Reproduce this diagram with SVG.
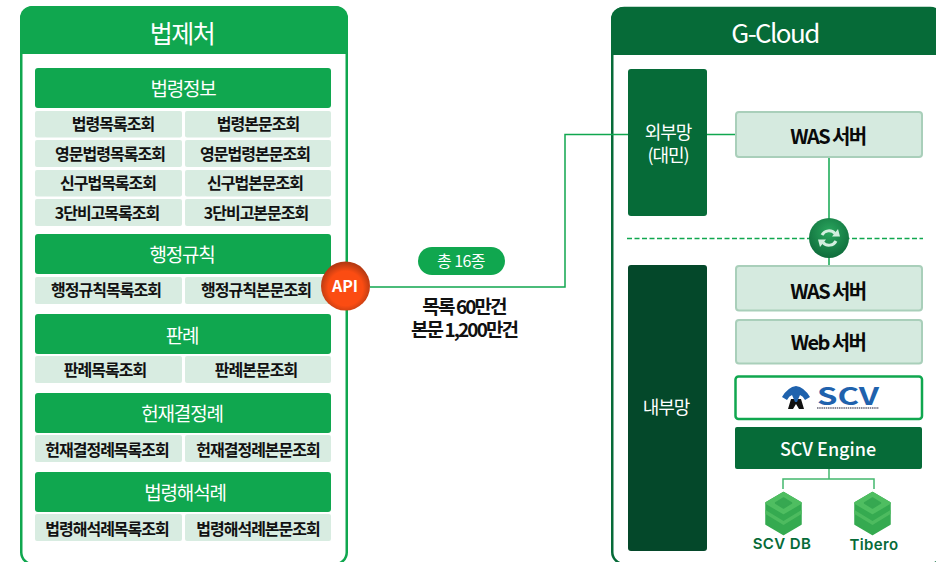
<svg xmlns="http://www.w3.org/2000/svg" width="936" height="562" viewBox="0 0 936 562">
<defs>
<style>
text{font-family:"Noto Sans CJK KR","Noto Sans",sans-serif;text-anchor:middle;dominant-baseline:central}
.cat{fill:#10a74f}
.cat-t{fill:#fff;font-size:19px;font-weight:400;letter-spacing:-1.2px}
.item{fill:#d8ece1}
.item-t{fill:#111;font-size:16px;font-weight:700;letter-spacing:-1px}
.srv{fill:#d5eadf;stroke:#a9cfba;stroke-width:2}
.srv-t{fill:#0a0a0a;font-size:20px;font-weight:700;letter-spacing:-1.6px}
.zone-t{fill:#fff;font-size:18px;letter-spacing:-1.1px}
.conn{fill:none;stroke:#10a74f;stroke-width:1.5}
.db-l{fill:#066b38;font-family:Inter,"Noto Sans",sans-serif;font-size:15px;font-weight:600;letter-spacing:.4px}
.vol{font-size:19px;font-weight:700;fill:#111;letter-spacing:-1.9px}
</style>
<radialGradient id="api" cx="50%" cy="55%" r="52%"><stop offset="0.68" stop-color="#fb4c12"/><stop offset="1" stop-color="#b73a12"/></radialGradient>
<radialGradient id="sync" cx="50%" cy="35%" r="65%"><stop offset="0" stop-color="#2aa75e"/><stop offset="1" stop-color="#0f6c3b"/></radialGradient>
<g id="db">
<path d="M-17 12 L0 2 L17 12 V33 L0 43 L-17 33Z" fill="#35aa50" stroke="#35aa50" stroke-width="2.500" stroke-linejoin="round"/>
<path d="M-18 19 L0 30 L18 19 V23 L0 34 L-18 23Z" fill="#4dbb5f"/>
<path d="M-17 12 L0 2 L17 12 L0 22Z" fill="#4fbe61" stroke="#4fbe61" stroke-width="2.500" stroke-linejoin="round"/>
<path d="M-8 12 L0 7 L8 12 L0 17Z" fill="#36a851" stroke="#36a851" stroke-width="1.500" stroke-linejoin="round"/>
</g>
</defs>
<rect width="936" height="562" fill="#fff"/>
<g id="panel-law">
<rect x="21.250" y="7.250" width="325.500" height="557" rx="12" fill="none" stroke="#10a74f" stroke-width="2.500"/>
<path d="M20 54V18A12 12 0 0 1 32 6H336A12 12 0 0 1 348 18V54Z" fill="#10a74f"/>
<text x="182" y="32" fill="#fff" font-size="25" letter-spacing="-1.500">법제처</text>
</g>
<g id="panel-gcloud">
<rect x="612.250" y="8" width="330" height="556" rx="12" fill="none" stroke="#066b38" stroke-width="2.500"/>
<path d="M611 55V19A12 12 0 0 1 623 7H928A12 12 0 0 1 940 19V55Z" fill="#066b38"/>
<text x="775" y="31" fill="#fff" font-size="26" letter-spacing="-1.600">G-Cloud</text>
</g>
<g id="connectors">
<path class="conn" d="M370 287H565V134.500H735"/>
<path class="conn" d="M829 158V265"/>
<path d="M627 238.500H923" fill="none" stroke="#10a74f" stroke-width="1.500" stroke-dasharray="5 2.500"/>
<path class="conn" d="M829 469V479M783 489V479H874V489" style="stroke:#43b86e"/>
</g>
<g id="cat-1"><rect class="cat" x="35" y="68" width="296" height="40" rx="3"/><text class="cat-t" x="183" y="87.500">법령정보</text></g>
<g id="n-1"><rect class="item" x="35" y="111" width="147" height="26.500" rx="2"/><text class="item-t" x="113" y="123">법령목록조회</text></g>
<g id="n-2"><rect class="item" x="185" y="111" width="146" height="26.500" rx="2"/><text class="item-t" x="258" y="123">법령본문조회</text></g>
<g id="n-3"><rect class="item" x="35" y="140" width="147" height="27" rx="2"/><text class="item-t" x="110" y="152.500">영문법령목록조회</text></g>
<g id="n-4"><rect class="item" x="185" y="140" width="146" height="27" rx="2"/><text class="item-t" x="255" y="152.500">영문법령본문조회</text></g>
<g id="n-5"><rect class="item" x="35" y="170" width="147" height="26.500" rx="2"/><text class="item-t" x="108" y="182">신구법목록조회</text></g>
<g id="n-6"><rect class="item" x="185" y="170" width="146" height="26.500" rx="2"/><text class="item-t" x="255" y="182">신구법본문조회</text></g>
<g id="n-7"><rect class="item" x="35" y="199" width="147" height="27" rx="2"/><text class="item-t" x="107" y="211.500">3단비고목록조회</text></g>
<g id="n-8"><rect class="item" x="185" y="199" width="146" height="27" rx="2"/><text class="item-t" x="256" y="211.500">3단비고본문조회</text></g>
<g id="cat-2"><rect class="cat" x="35" y="234" width="296" height="40" rx="3"/><text class="cat-t" x="182" y="253">행정규칙</text></g>
<g id="n-9"><rect class="item" x="35" y="277" width="147" height="27" rx="2"/><text class="item-t" x="106" y="289">행정규칙목록조회</text></g>
<g id="n-10"><rect class="item" x="185" y="277" width="146" height="27" rx="2"/><text class="item-t" x="256" y="289">행정규칙본문조회</text></g>
<g id="cat-3"><rect class="cat" x="35" y="314" width="296" height="40" rx="3"/><text class="cat-t" x="182" y="334">판례</text></g>
<g id="n-11"><rect class="item" x="35" y="356" width="147" height="27" rx="2"/><text class="item-t" x="105" y="369">판례목록조회</text></g>
<g id="n-12"><rect class="item" x="185" y="356" width="146" height="27" rx="2"/><text class="item-t" x="256" y="369">판례본문조회</text></g>
<g id="cat-4"><rect class="cat" x="35" y="393" width="296" height="40" rx="3"/><text class="cat-t" x="182" y="412.500">헌재결정례</text></g>
<g id="n-13"><rect class="item" x="35" y="435" width="147" height="27" rx="2"/><text class="item-t" x="107" y="449">헌재결정례목록조회</text></g>
<g id="n-14"><rect class="item" x="185" y="435" width="146" height="27" rx="2"/><text class="item-t" x="258" y="449">헌재결정례본문조회</text></g>
<g id="cat-5"><rect class="cat" x="35" y="472" width="296" height="40" rx="3"/><text class="cat-t" x="185" y="491">법령해석례</text></g>
<g id="n-15"><rect class="item" x="35" y="514" width="147" height="27" rx="2"/><text class="item-t" x="107" y="528">법령해석례목록조회</text></g>
<g id="n-16"><rect class="item" x="185" y="514" width="146" height="27" rx="2"/><text class="item-t" x="258" y="528">법령해석례본문조회</text></g>
<g id="api-badge"><circle cx="345.500" cy="286" r="24.500" fill="url(#api)"/><text x="345" y="285" fill="#fff" font-size="16" font-weight="700" font-family="Inter,sans-serif">API</text></g>
<g id="pill"><rect x="418" y="247" width="87" height="28" rx="14" fill="#10a74f"/><text x="461" y="260" fill="#fff" font-size="16" letter-spacing="-.6">총 16종</text></g>
<g id="volume"><text class="vol" x="464" y="305">목록 60만건</text><text class="vol" x="464" y="328">본문 1,200만건</text></g>
<g id="zone-ext"><rect x="628" y="69" width="79" height="147" rx="3" fill="#066b38"/><text class="zone-t" x="668" y="131">외부망</text><text class="zone-t" x="668" y="154">(대민)</text></g>
<g id="zone-int"><rect x="628" y="265" width="79" height="286" rx="3" fill="#04482a"/><text class="zone-t" x="666" y="406">내부망</text></g>
<g id="was-ext"><rect class="srv" x="736" y="112" width="186" height="45" rx="3"/><text class="srv-t" x="828" y="135">WAS 서버</text></g>
<g id="sync-node"><circle cx="829" cy="238" r="20" fill="url(#sync)"/>
<path d="M822 235A8 8 0 0 1 835 233.500M836 241A8 8 0 0 1 823 242.500" fill="none" stroke="#d3efdf" stroke-width="3"/>
<path d="M832 236.500H840L838 229Z M826 239.500H818L820 247Z" fill="#d3efdf"/></g>
<g id="was-int"><rect class="srv" x="736" y="266" width="186" height="44.500" rx="3"/><text class="srv-t" x="828" y="290">WAS 서버</text></g>
<g id="web"><rect class="srv" x="736" y="320" width="186" height="43.500" rx="3"/><text class="srv-t" x="828" y="341">Web 서버</text></g>
<g id="scv-logo"><rect x="735.500" y="376.500" width="186.500" height="42.500" rx="3" fill="#fff" stroke="#10a74f" stroke-width="2.500"/>
<path d="M791 399L801 399L804 409L799 409L796 404L793 409L788 409Z" fill="#111"/>
<path d="M782 397Q788 387 796 386Q804 387 810 397L805 400Q803 396 800 395L797 402H795L792 395Q789 396 787 400Z" fill="#1f62ad"/>
<text x="848" y="394" font-family="Inter,sans-serif" font-size="24" font-weight="600" fill="#1f62ad" textLength="62" lengthAdjust="spacingAndGlyphs">SCV</text>
<path d="M817 408H879" stroke="#667" stroke-width="1.500" stroke-dasharray="1.500 .7"/></g>
<g id="scv-engine"><rect x="735" y="427" width="187" height="42" rx="2" fill="#066b38"/><text x="828" y="448" fill="#fff" font-family="Inter,sans-serif" font-size="18" font-weight="500">SCV Engine</text></g>
<g id="db-scv"><use href="#db" x="783.500" y="491"/><text class="db-l" x="782" y="543">SCV DB</text></g>
<g id="db-tibero"><use href="#db" x="872.500" y="491"/><text class="db-l" x="874" y="544">Tibero</text></g>
</svg>
